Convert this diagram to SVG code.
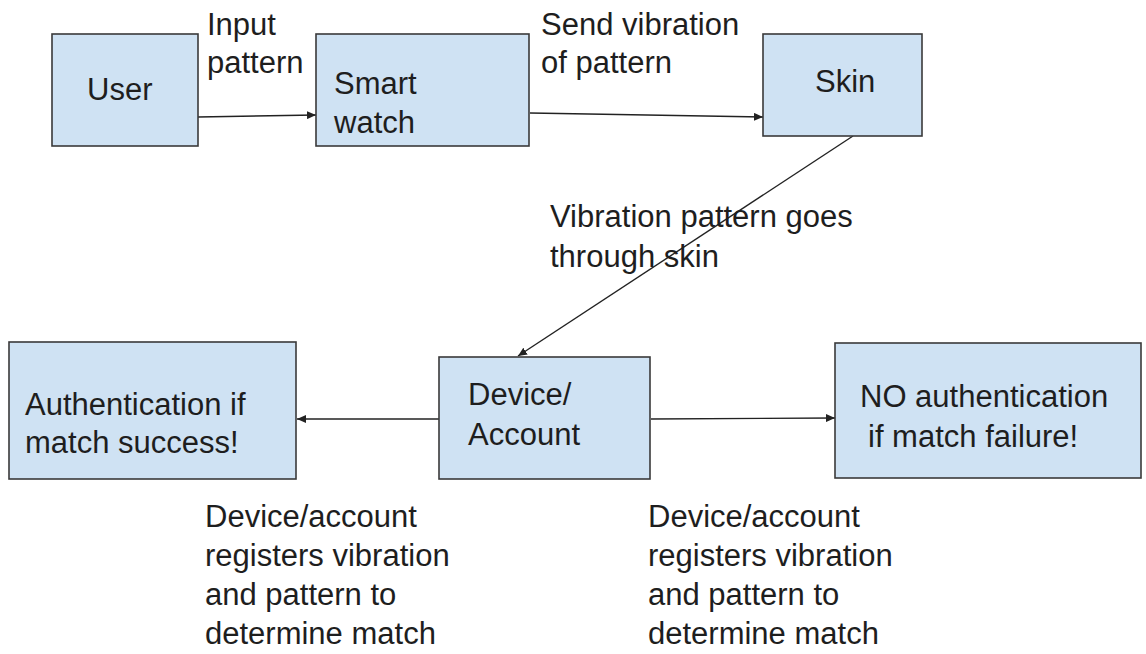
<svg xmlns="http://www.w3.org/2000/svg" width="1146" height="654" viewBox="0 0 1146 654">
  <style>
    .box { fill: #cfe2f3; stroke: #3a3a3a; stroke-width: 1.6; }
    .txt { font-family: "Liberation Sans", Arial, sans-serif; font-size: 31px; fill: #1e1e1e; }
    .edge { fill: none; stroke: #222; stroke-width: 1.4; marker-end: url(#arrow); }
  </style>
  <defs>
    <marker id="arrow" markerUnits="userSpaceOnUse" markerWidth="10" markerHeight="8" refX="9" refY="4" orient="auto">
      <path d="M0,0 L9,4 L0,8 Z" fill="#222"/>
    </marker>
  </defs>

  <rect width="1146" height="654" fill="#ffffff"/>

  <!-- connectors -->
  <g id="connectors">
    <line class="edge" x1="198" y1="117" x2="316" y2="115"/>
    <line class="edge" x1="530" y1="113" x2="763" y2="117"/>
    <line class="edge" x1="853" y1="136" x2="518" y2="356"/>
    <line class="edge" x1="439" y1="419" x2="297" y2="419"/>
    <line class="edge" x1="651" y1="419" x2="835" y2="418"/>
  </g>

  <!-- edge labels -->
  <g id="labels" class="txt">
    <text x="207" y="35">Input</text>
    <text x="207" y="73">pattern</text>
    <text x="541" y="35">Send vibration</text>
    <text x="541" y="73">of pattern</text>
    <text x="550" y="227">Vibration pattern goes</text>
    <text x="550" y="267">through skin</text>
    <text x="205" y="527">Device/account</text>
    <text x="205" y="566">registers vibration</text>
    <text x="205" y="605">and pattern to</text>
    <text x="205" y="644">determine match</text>
    <text x="648" y="527">Device/account</text>
    <text x="648" y="566">registers vibration</text>
    <text x="648" y="605">and pattern to</text>
    <text x="648" y="644">determine match</text>
  </g>

  <!-- nodes -->
  <g id="user">
    <rect class="box" x="52" y="34" width="146" height="112"/>
    <text class="txt" x="87" y="100">User</text>
  </g>
  <g id="smartwatch">
    <rect class="box" x="316" y="34" width="213" height="112"/>
    <text class="txt" x="334" y="94">Smart</text>
    <text class="txt" x="334" y="133">watch</text>
  </g>
  <g id="skin">
    <rect class="box" x="763" y="34" width="159" height="102"/>
    <text class="txt" x="815" y="92">Skin</text>
  </g>
  <g id="auth-success">
    <rect class="box" x="9" y="342" width="287" height="137"/>
    <text class="txt" x="25" y="415">Authentication if</text>
    <text class="txt" x="25" y="453">match success!</text>
  </g>
  <g id="device-account">
    <rect class="box" x="439" y="357" width="211" height="122"/>
    <text class="txt" x="468" y="405">Device/</text>
    <text class="txt" x="468" y="445">Account</text>
  </g>
  <g id="auth-failure">
    <rect class="box" x="835" y="343" width="306" height="135"/>
    <text class="txt" x="860" y="407">NO authentication</text>
    <text class="txt" x="868" y="447">if match failure!</text>
  </g>
</svg>
